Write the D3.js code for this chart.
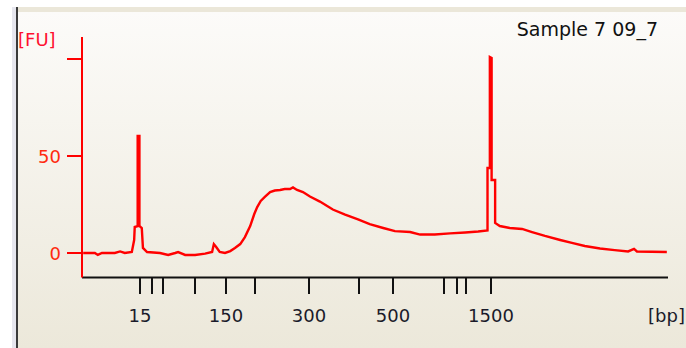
<!DOCTYPE html>
<html>
<head>
<meta charset="utf-8">
<script src="https://cdn.jsdelivr.net/npm/d3@7"></script>
<style>
  html, body { margin: 0; padding: 0; background: #ffffff; }
  svg { display: block; }
  text { font-family: "DejaVu Sans", sans-serif; }
</style>
</head>
<body>
<svg id="chart" width="686" height="348"></svg>
<script>
// electropherogram trace: migration time (s) vs fluorescence (FU)
const traceTime = [20.2, 22.2, 22.7, 23.4, 25.6, 26.5, 27.3, 28.5, 28.9, 29.0, 29.5, 29.5, 29.8, 29.8, 30.2, 30.4, 31.1,
  33.3, 34.7, 35.9, 36.4, 37.6, 39.3, 41.0, 42.2, 42.5, 42.9, 43.5, 44.4, 45.3, 46.1, 47.0, 47.8, 48.7, 49.4, 49.9,
  50.5, 51.2, 52.1, 52.9, 53.8, 54.6, 55.5, 56.0, 56.7, 57.7, 58.9, 60.6, 62.8, 64.9, 67.1, 69.1, 71.4, 73.4, 76.0,
  77.7, 80.2, 82.8, 85.4, 87.6, 89.2, 89.2, 89.6, 89.6, 89.9, 89.9, 90.5, 90.5, 91.3, 93.0, 95.1, 96.8, 99.0, 101.6,
  103.6, 105.8, 108.4, 110.9, 113.2, 114.2, 114.7, 119.8];
const traceFU = [0, 0, -1.0, 0, 0, 0.8, 0, 0.5, 6.7, 13.4, 13.9, 60.3, 60.3, 13.9, 12.9, 2.6, 0.5,
  0, -1.0, 0, 0.5, -1.0, -1.0, -0.3, 0.5, 4.6, 3.1, 0.5, 0, 1.0, 2.6, 4.6, 8.2, 13.9, 20.1, 23.7,
  26.8, 28.9, 31.4, 32.2, 32.5, 33.0, 33.0, 33.8, 32.5, 31.4, 29.1, 26.5, 22.4, 19.8, 17.3, 14.9, 12.9, 11.3, 10.8,
  9.5, 9.5, 10.1, 10.6, 11.1, 11.6, 43.8, 43.8, 101.0, 100.5, 37.6, 37.6, 15.5, 13.9, 12.9, 12.4, 10.8, 8.8, 6.7,
  5.2, 3.6, 2.3, 1.5, 0.8, 2.1, 0.8, 0.5];

// ladder fragments (bp) and their migration times (s)
const ladderBp = [15, 25, 50, 100, 150, 200, 300, 400, 500, 700, 850, 1000, 1500];
const ladderTime = [29.9, 31.9, 33.9, 39.3, 44.6, 49.5, 58.7, 67.3, 73.0, 81.7, 84.0, 85.6, 89.8];
const labeledBp = [15, 150, 300, 500, 1500];

const fuTicks = [0, 50, 100];
const fuLabels = ["0", "50", ""];

const sampleName = "Sample 7 09_7";

const svg = d3.select("#chart");
const W = 686, H = 348;

// background gradient of the panel
const defs = svg.append("defs");
const grad = defs.append("linearGradient")
  .attr("id", "bg").attr("x1", 0).attr("y1", 0).attr("x2", 0).attr("y2", 1);
grad.append("stop").attr("offset", "0%").attr("stop-color", "#fcfbf9");
grad.append("stop").attr("offset", "100%").attr("stop-color", "#ece8da");

svg.append("rect").attr("x", 0).attr("y", 0).attr("width", W).attr("height", H).attr("fill", "#ffffff");
svg.append("rect").attr("x", 12).attr("y", 7).attr("width", 4).attr("height", H - 7).attr("fill", "#e6e6ee");
svg.append("rect").attr("x", 16).attr("y", 7).attr("width", W - 16).attr("height", 5).attr("fill", "#ebe7d9");
svg.append("rect").attr("x", 16).attr("y", 12).attr("width", W - 16).attr("height", H - 12).attr("fill", "url(#bg)");
svg.append("line").attr("x1", 17).attr("x2", 17).attr("y1", 7).attr("y2", H)
  .attr("stroke", "#3a3a3a").attr("stroke-width", 2);

// scales
const x = d3.scaleLinear().domain([20, 120]).range([82, 668]);
const y = d3.scaleLinear().domain([0, 100]).range([253, 59]);
const axisY = 277.5;

// x axis (black)
svg.append("line").attr("x1", 82).attr("x2", 668).attr("y1", axisY).attr("y2", axisY)
  .attr("stroke", "#111").attr("stroke-width", 2);
const xt = svg.append("g").selectAll("g").data(ladderBp).enter().append("g")
  .attr("transform", (d, i) => "translate(" + Math.round(x(ladderTime[i])) + ",0)");
xt.append("line").attr("y1", axisY).attr("y2", 294).attr("stroke", "#111").attr("stroke-width", 2);
xt.filter(d => labeledBp.includes(d)).append("text")
  .attr("y", 322).attr("text-anchor", "middle")
  .attr("font-size", 18).attr("fill", "#1a1a2a")
  .text(d => d);
svg.append("text").attr("x", 685).attr("y", 322).attr("text-anchor", "end")
  .attr("font-size", 18).attr("fill", "#1a1a2a").text("[bp]");

// y axis (red)
svg.append("line").attr("x1", 82).attr("x2", 82).attr("y1", 37).attr("y2", axisY)
  .attr("stroke", "#ff0000").attr("stroke-width", 2);
const yt = svg.append("g").selectAll("g").data(fuTicks).enter().append("g")
  .attr("transform", d => "translate(0," + Math.round(y(d)) + ")");
yt.append("line").attr("x1", 67).attr("x2", 82).attr("stroke", "#ff0000").attr("stroke-width", 2);
yt.append("text").attr("x", 61).attr("y", 7).attr("text-anchor", "end")
  .attr("font-size", 18).attr("fill", "#ff2a10")
  .text((d, i) => fuLabels[i]);
svg.append("text").attr("x", 18).attr("y", 46)
  .attr("font-size", 18).attr("fill", "#ff1030").text("[FU]");

// sample name
svg.append("text").attr("x", 658).attr("y", 36).attr("text-anchor", "end")
  .attr("font-size", 19).attr("fill", "#111").text(sampleName);

// trace
const pts = traceTime.map((t, i) => [t, traceFU[i]]);
const line = d3.line().x(d => x(d[0])).y(d => y(d[1]));
svg.append("path").datum(pts)
  .attr("d", line)
  .attr("fill", "none")
  .attr("stroke", "#ff0000")
  .attr("stroke-width", 2.4)
  .attr("stroke-linejoin", "miter");
</script>
</body>
</html>
